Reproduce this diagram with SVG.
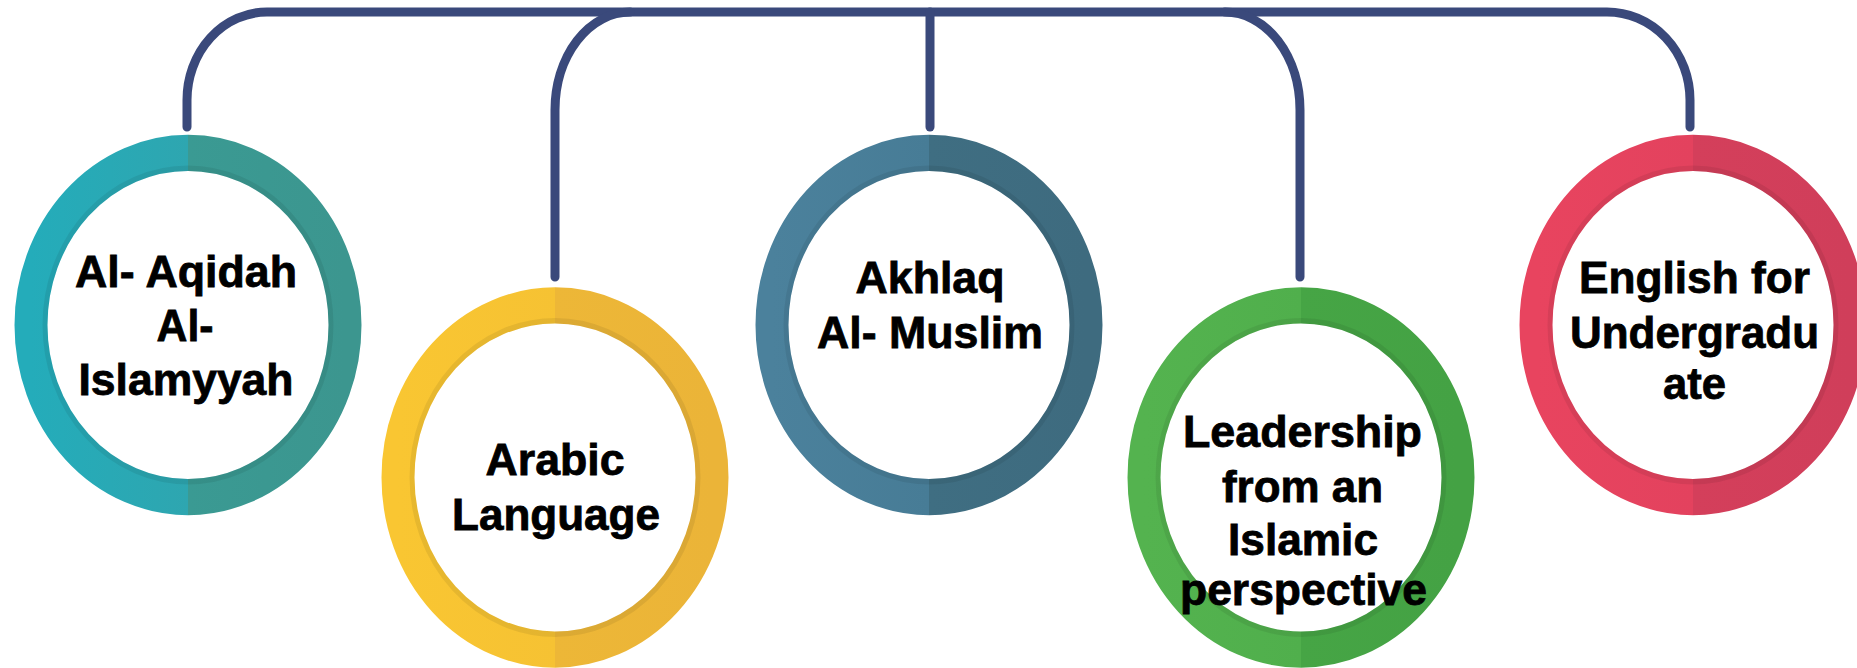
<svg xmlns="http://www.w3.org/2000/svg" width="1857" height="668" viewBox="0 0 1857 668">
  <style>
    .conn { fill: none; stroke: #3A497B; stroke-width: 9; stroke-linecap: round; stroke-linejoin: round; }
    .ring { fill: #FFFFFF; stroke-width: 33; }
    .shade { fill: none; stroke: #000000; stroke-opacity: 0.07; stroke-width: 5; }
    .label { font-family: "Liberation Sans", Arial, sans-serif; font-weight: bold; font-size: 44px; fill: #000000; stroke: #000000; stroke-width: 0.8; text-anchor: middle; }
  </style>
  <defs>
    <linearGradient id="gTeal" x1="0" y1="0" x2="1" y2="0">
      <stop offset="0" stop-color="#24ACBA"/><stop offset="0.5" stop-color="#2EA6B0"/>
      <stop offset="0.5" stop-color="#3A9A93"/><stop offset="1" stop-color="#3C968F"/>
    </linearGradient>
    <linearGradient id="gYellow" x1="0" y1="0" x2="1" y2="0">
      <stop offset="0" stop-color="#F9C632"/><stop offset="0.5" stop-color="#F6C233"/>
      <stop offset="0.5" stop-color="#EDB737"/><stop offset="1" stop-color="#EBB438"/>
    </linearGradient>
    <linearGradient id="gBlue" x1="0" y1="0" x2="1" y2="0">
      <stop offset="0" stop-color="#4B819C"/><stop offset="0.5" stop-color="#477C96"/>
      <stop offset="0.5" stop-color="#3F6E82"/><stop offset="1" stop-color="#3E6B7F"/>
    </linearGradient>
    <linearGradient id="gGreen" x1="0" y1="0" x2="1" y2="0">
      <stop offset="0" stop-color="#54B34F"/><stop offset="0.5" stop-color="#50AF4C"/>
      <stop offset="0.5" stop-color="#46A545"/><stop offset="1" stop-color="#44A244"/>
    </linearGradient>
    <linearGradient id="gRed" x1="0" y1="0" x2="1" y2="0">
      <stop offset="0" stop-color="#E8445F"/><stop offset="0.5" stop-color="#E3425E"/>
      <stop offset="0.5" stop-color="#D43F5B"/><stop offset="1" stop-color="#D03E5A"/>
    </linearGradient>
  </defs>
  <rect width="1857" height="668" fill="#FFFFFF"/>

  <g id="connectors">
    <path class="conn" d="M187,127 V100 A80,88 0 0 1 267,12 H1607 A83,88 0 0 1 1690,100 V127"/>
    <path class="conn" d="M630,12 A75,98 0 0 0 555,110 V277"/>
    <path class="conn" d="M930,12 V127"/>
    <path class="conn" d="M1225,12 A75,98 0 0 1 1300,110 V277"/>
  </g>

  <g id="node-aqidah">
    <g transform="translate(188,325) scale(1,1.096)">
      <circle class="ring" r="157" stroke="url(#gTeal)"/>
      <circle class="shade" r="143"/>
    </g>
    <text class="label" x="186" y="287" textLength="222" lengthAdjust="spacingAndGlyphs">Al- Aqidah</text>
    <text class="label" x="185" y="341" textLength="57" lengthAdjust="spacingAndGlyphs">Al-</text>
    <text class="label" x="186" y="395" textLength="215" lengthAdjust="spacingAndGlyphs">Islamyyah</text>
  </g>

  <g id="node-arabic">
    <g transform="translate(555,477.5) scale(1,1.096)">
      <circle class="ring" r="157" stroke="url(#gYellow)"/>
      <circle class="shade" r="143"/>
    </g>
    <text class="label" x="555" y="475" textLength="139" lengthAdjust="spacingAndGlyphs">Arabic</text>
    <text class="label" x="556" y="530" textLength="208" lengthAdjust="spacingAndGlyphs">Language</text>
  </g>

  <g id="node-akhlaq">
    <g transform="translate(929,325) scale(1,1.096)">
      <circle class="ring" r="157" stroke="url(#gBlue)"/>
      <circle class="shade" r="143"/>
    </g>
    <text class="label" x="930" y="293" textLength="149" lengthAdjust="spacingAndGlyphs">Akhlaq</text>
    <text class="label" x="930" y="348" textLength="226" lengthAdjust="spacingAndGlyphs">Al- Muslim</text>
  </g>

  <g id="node-leadership">
    <g transform="translate(1301,477.5) scale(1,1.096)">
      <circle class="ring" r="157" stroke="url(#gGreen)"/>
      <circle class="shade" r="143"/>
    </g>
    <text class="label" x="1302.5" y="447" textLength="239" lengthAdjust="spacingAndGlyphs">Leadership</text>
    <text class="label" x="1302.5" y="502" textLength="161" lengthAdjust="spacingAndGlyphs">from an</text>
    <text class="label" x="1303" y="555" textLength="150" lengthAdjust="spacingAndGlyphs">Islamic</text>
    <text class="label" x="1303.5" y="605" textLength="247" lengthAdjust="spacingAndGlyphs">perspective</text>
  </g>

  <g id="node-english">
    <g transform="translate(1693,325) scale(1,1.096)">
      <circle class="ring" r="157" stroke="url(#gRed)"/>
      <circle class="shade" r="143"/>
    </g>
    <text class="label" x="1694.5" y="293" textLength="231" lengthAdjust="spacingAndGlyphs">English for</text>
    <text class="label" x="1694.5" y="348" textLength="249" lengthAdjust="spacingAndGlyphs">Undergradu</text>
    <text class="label" x="1694.5" y="399" textLength="63" lengthAdjust="spacingAndGlyphs">ate</text>
  </g>
</svg>
